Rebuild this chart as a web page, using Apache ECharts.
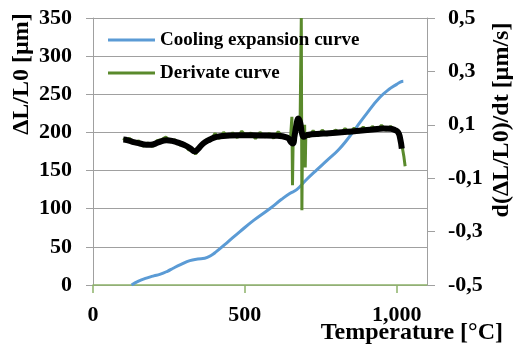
<!DOCTYPE html>
<html>
<head>
<meta charset="utf-8">
<script src="https://cdn.jsdelivr.net/npm/echarts@6/dist/echarts.min.js"></script>
<style>
  html, body { margin: 0; padding: 0; background: #fff; }
  #chart { width: 516px; height: 352px; }
</style>
</head>
<body>
<div id="chart"></div>
<script>
// cooling expansion curve (left axis, µm)
const coolTemp = [127, 150, 176, 200, 220, 245, 264, 290, 319, 345, 368, 390, 407, 440, 484, 530, 582, 620, 648, 671, 700, 737, 770, 808, 840, 868, 900, 945, 980, 1000, 1012, 1022];
const coolDL = [0, 5, 9, 12, 14, 18, 22, 27, 32, 34, 35, 39, 44, 55, 70, 85, 100, 112, 120, 125, 137, 151, 163, 177, 192, 207, 224, 246, 258, 263, 266, 267];

// raw derivative (right axis, µm/s)
const rawTemp = [100, 110, 120, 135, 150, 165, 180, 195, 210, 225, 240, 255, 270, 285, 300, 315, 328, 338, 350, 362, 375, 390, 402, 415, 430, 445, 460, 475, 490, 505, 520, 535, 550, 565, 580, 595, 610, 625, 640, 650, 655, 657, 659, 664, 670, 676, 682, 686, 688, 690, 694, 697, 699, 701, 710, 725, 740, 755, 770, 785, 800, 815, 830, 845, 860, 875, 890, 905, 920, 935, 950, 965, 980, 995, 1005, 1012, 1018, 1024, 1028];
const rawDeriv = [0.05, 0.038, 0.05, 0.03, 0.04, 0.02, 0.032, 0.018, 0.04, 0.044, 0.054, 0.036, 0.044, 0.024, 0.03, 0.006, 0.008, -0.01, 0.016, 0.024, 0.046, 0.046, 0.068, 0.048, 0.072, 0.054, 0.07, 0.052, 0.076, 0.056, 0.07, 0.048, 0.072, 0.054, 0.068, 0.05, 0.074, 0.054, 0.05, 0.04, 0.13, -0.126, 0.03, 0.06, 0.1, 0.12, 0.1, 0.5, -0.22, 0.08, 0.06, 0.1, -0.06, 0.07, 0.054, 0.078, 0.058, 0.08, 0.062, 0.072, 0.08, 0.066, 0.086, 0.068, 0.088, 0.072, 0.092, 0.074, 0.094, 0.078, 0.098, 0.08, 0.094, 0.078, 0.07, 0.05, 0.02, -0.02, -0.055];

// smoothed derivative (black)
const smoothTemp = [100, 115, 130, 154, 175, 190, 215, 242, 260, 280, 305, 320, 335, 345, 363, 385, 407, 440, 484, 550, 600, 640, 652, 658, 664, 670, 676, 682, 688, 694, 705, 758, 800, 868, 920, 956, 980, 995, 1005, 1011, 1017];
const smoothDeriv = [0.045, 0.042, 0.036, 0.03, 0.025, 0.025, 0.034, 0.042, 0.04, 0.033, 0.022, 0.012, 0.0, 0.008, 0.03, 0.045, 0.055, 0.059, 0.061, 0.06, 0.059, 0.052, 0.035, 0.03, 0.06, 0.1, 0.124, 0.11, 0.07, 0.055, 0.062, 0.067, 0.07, 0.077, 0.082, 0.086, 0.085, 0.08, 0.072, 0.052, 0.011];

const xTicks = [0, 500, 1000];
const rightTicks = [-0.5, -0.3, -0.1, 0.1, 0.3, 0.5];

const FONT = "Liberation Serif";
const GRID_GRAY = "#a0a0a0";

const labelStyle = {
  fontFamily: FONT,
  fontWeight: "bold",
  fontSize: 22,
  color: "#000",
};

const chart = echarts.init(document.getElementById("chart"));

chart.setOption({
  animation: false,
  backgroundColor: "#fff",
  textStyle: { fontFamily: FONT, fontWeight: "bold", color: "#000" },
  grid: {
    left: 93,
    right: 89,
    top: 18,
    bottom: 67,
    outerBoundsMode: "none",
  },
  legend: {
    data: ["Cooling expansion curve", "Derivate curve"],
    orient: "vertical",
    left: 108,
    top: 30,
    padding: 0,
    icon: "rect",
    itemWidth: 47,
    itemHeight: 3,
    itemGap: 13,
    textStyle: {
      fontFamily: FONT,
      fontWeight: "bold",
      fontSize: 19,
      color: "#000",
      lineHeight: 20,
    },
  },
  xAxis: {
    type: "value",
    min: 0,
    max: 1100,
    interval: 500,
    axisLine: { show: true, lineStyle: { color: "#8db36a", width: 1.5 } },
    axisTick: {
      show: true,
      inside: false,
      length: 8,
      customValues: xTicks,
      lineStyle: { color: "#8db36a", width: 1.5 },
    },
    axisLabel: Object.assign({ customValues: xTicks, margin: 19 }, labelStyle),
    splitLine: { show: false },
  },
  yAxis: [
    {
      type: "value",
      min: 0,
      max: 350,
      interval: 50,
      axisLine: { show: true, lineStyle: { color: GRID_GRAY, width: 1 } },
      axisTick: { show: true, inside: false, length: 7, lineStyle: { color: GRID_GRAY } },
      axisLabel: Object.assign({ margin: 21 }, labelStyle),
      splitLine: { show: true, lineStyle: { color: GRID_GRAY, width: 1 } },
    },
    {
      type: "value",
      min: -0.5,
      max: 0.5,
      position: "right",
      axisLine: { show: true, lineStyle: { color: GRID_GRAY, width: 1 } },
      axisTick: {
        show: true,
        inside: false,
        length: 8,
        customValues: rightTicks,
        lineStyle: { color: GRID_GRAY },
      },
      axisLabel: Object.assign({
        customValues: rightTicks,
        margin: 21,
        formatter: (v) => v.toFixed(1).replace(".", ","),
      }, labelStyle),
      splitLine: { show: false },
    },
  ],
  graphic: [
    {
      type: "text",
      x: 22,
      y: 74,
      rotation: Math.PI / 2,
      style: {
        text: "ΔL/L0 [µm]",
        font: 'bold 24px "Liberation Serif"',
        fill: "#000",
        align: "center",
        verticalAlign: "middle",
      },
    },
    {
      type: "text",
      x: 502,
      y: 120,
      rotation: Math.PI / 2,
      style: {
        text: "d(ΔL/L0)/dt [µm/s]",
        font: 'bold 24px "Liberation Serif"',
        fill: "#000",
        align: "center",
        verticalAlign: "middle",
      },
    },
    {
      type: "text",
      x: 503,
      y: 333,
      style: {
        text: "Temperature [°C]",
        font: 'bold 24px "Liberation Serif"',
        fill: "#000",
        align: "right",
        verticalAlign: "middle",
      },
    },
  ],
  series: [
    {
      name: "Cooling expansion curve",
      type: "line",
      yAxisIndex: 0,
      symbol: "none",
      smooth: true,
      data: coolTemp.map((t, i) => [t, coolDL[i]]),
      lineStyle: { color: "#5b9bd5", width: 3 },
      itemStyle: { color: "#5b9bd5" },
      z: 2,
    },
    {
      name: "Derivate curve",
      type: "line",
      yAxisIndex: 1,
      symbol: "none",
      data: rawTemp.map((t, i) => [t, rawDeriv[i]]),
      lineStyle: { color: "#5a8a2c", width: 3 },
      itemStyle: { color: "#5a8a2c" },
      z: 3,
    },
    {
      name: "Smoothed derivative",
      type: "line",
      yAxisIndex: 1,
      symbol: "none",
      smooth: true,
      data: smoothTemp.map((t, i) => [t, smoothDeriv[i]]),
      lineStyle: { color: "#000", width: 6 },
      itemStyle: { color: "#000" },
      z: 4,
    },
  ],
});
</script>
</body>
</html>
